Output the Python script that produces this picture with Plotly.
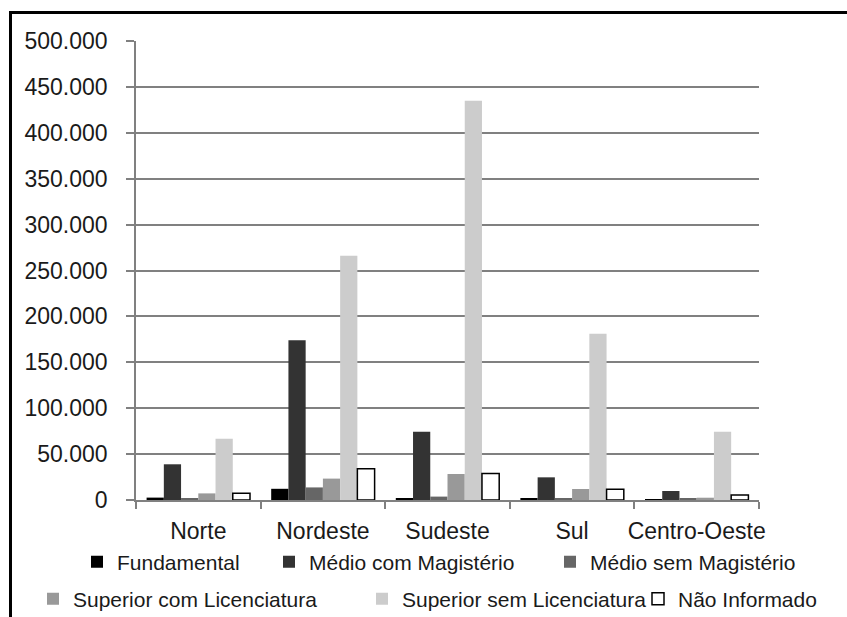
import plotly.graph_objects as go

# Regions on the x axis
regioes = ["Norte", "Nordeste", "Sudeste", "Sul", "Centro-Oeste"]

# Number of teachers by education level in each region
fundamental = [2600, 12200, 1900, 1800, 500]
medio_com_magisterio = [38900, 174000, 74400, 24700, 9800]
medio_sem_magisterio = [1900, 13700, 3700, 1800, 1800]
superior_com_licenciatura = [7200, 23300, 28300, 12000, 2500]
superior_sem_licenciatura = [66700, 266000, 435000, 181000, 74400]
nao_informado = [7400, 34000, 29000, 11600, 5400]

series = [
    ("Fundamental", fundamental, "#000000"),
    ("Médio com Magistério", medio_com_magisterio, "#333333"),
    ("Médio sem Magistério", medio_sem_magisterio, "#666666"),
    ("Superior com Licenciatura", superior_com_licenciatura, "#999999"),
    ("Superior sem Licenciatura", superior_sem_licenciatura, "#cccccc"),
    ("Não Informado", nao_informado, "#ffffff"),
]

FONT = "Liberation Sans, Arial, sans-serif"
W, H = 847, 617
ML, MR, MT, MB = 136, 88, 41, 117
PW, PH = W - ML - MR, H - MT - MB

fig = go.Figure()
legend_ids = ["legend", "legend2", "legend3", "legend4", "legend5", "legend6"]
for (name, vals, color), lid in zip(series, legend_ids):
    line = dict(width=1.5, color="#000000") if name == "Não Informado" else dict(width=0)
    fig.add_trace(go.Bar(
        x=regioes, y=vals, name=name,
        marker=dict(color=color, line=line),
        legend=lid, showlegend=True,
    ))

# legend entries laid out in two centred rows
legend_pos = [(91, 562), (283, 562), (564, 562), (47, 599), (376, 599), (652, 599)]
legend_layout = {}
for lid, (px, py) in zip(legend_ids, legend_pos):
    legend_layout[lid] = dict(
        xref="container", yref="container",
        x=(px - 14) / W, y=1 - py / H,
        xanchor="left", yanchor="middle",
        orientation="h", visible=True,
        font=dict(family=FONT, size=21, color="#1a1a1a"),
        bgcolor="rgba(0,0,0,0)", borderwidth=0,
    )

def px_x(p):
    return (p - ML) / PW

def px_y(p):
    return (H - MB - p) / PH

# black frame along the top and left edges
frame = [
    dict(type="line", xref="paper", yref="paper",
         x0=px_x(9), x1=px_x(850), y0=px_y(12.5), y1=px_y(12.5),
         line=dict(color="#000000", width=3)),
    dict(type="line", xref="paper", yref="paper",
         x0=px_x(10.5), x1=px_x(10.5), y0=px_y(11), y1=px_y(620),
         line=dict(color="#000000", width=3)),
]

fig.update_layout(
    width=W, height=H,
    margin=dict(l=ML, r=MR, t=MT, b=MB, autoexpand=False),
    paper_bgcolor="white", plot_bgcolor="white",
    barmode="group", bargap=0.17, bargroupgap=0,
    separators=",.",
    showlegend=True,
    font=dict(family=FONT, size=22, color="#1a1a1a"),
    shapes=frame,
    **legend_layout,
)

fig.update_xaxes(
    type="category",
    showline=True, linecolor="#808080", linewidth=1.5,
    ticks="outside", tickson="boundaries", ticklen=7, tickcolor="#808080", tickwidth=1.5,
    tickfont=dict(family=FONT, size=23, color="#1a1a1a"),
    tickangle=0, automargin=False,
    ticklabelstandoff=10,
    showgrid=False,
)
fig.update_yaxes(
    range=[0, 500000], dtick=50000, tickformat=",.0f",
    showline=True, linecolor="#808080", linewidth=1.5,
    ticks="outside", ticklen=8, tickcolor="#808080", tickwidth=1.5,
    showgrid=True, gridcolor="#808080", gridwidth=1.5,
    zeroline=False, automargin=False,
    tickfont=dict(family=FONT, size=23, color="#1a1a1a"),
    ticklabelstandoff=14,
)

fig.write_html("out.html")
